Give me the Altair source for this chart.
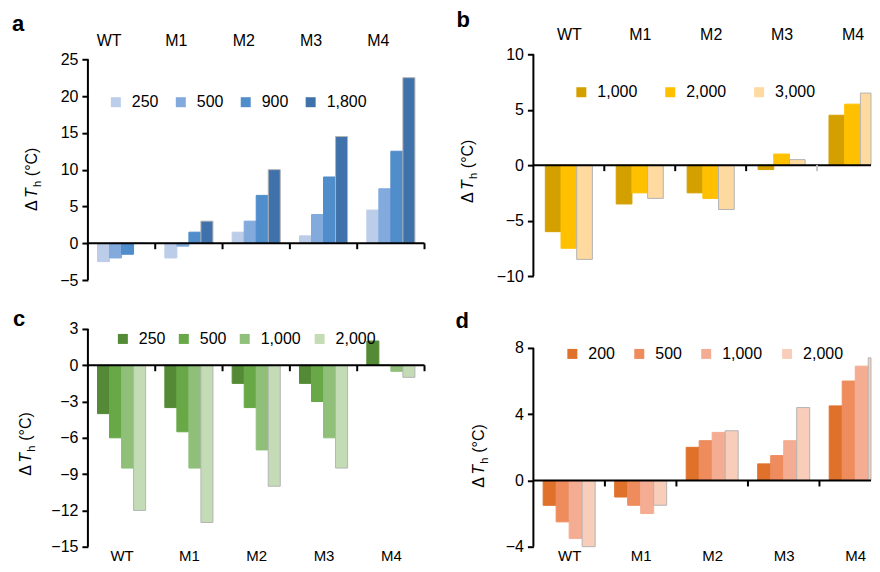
import altair as alt
import pandas as pd

FONT = "Liberation Sans"
cats = ["WT", "M1", "M2", "M3", "M4"]

# Panel a
a_series = ["250", "500", "900", "1,800"]
a_250 = [-2.5, -2.0, 1.5, 1.0, 4.5]
a_500 = [-2.0, -0.4, 3.0, 3.9, 7.4]
a_900 = [-1.5, 1.5, 6.5, 9.0, 12.5]
a_1800 = [0.0, 3.0, 10.0, 14.5, 22.5]
a_colors = ["#bccde9", "#82aadd", "#4f8dcb", "#3f72aa"]

# Panel b
b_series = ["1,000", "2,000", "3,000"]
b_1000 = [-6.0, -3.5, -2.5, -0.4, 4.5]
b_2000 = [-7.5, -2.5, -3.0, 1.0, 5.5]
b_3000 = [-8.5, -3.0, -4.0, 0.5, 6.5]
b_colors = ["#d4a000", "#ffc000", "#fed9a0"]

# Panel c
c_series = ["250", "500", "1,000", "2,000"]
c_250 = [-4.0, -3.5, -1.5, -1.5, 2.0]
c_500 = [-6.0, -5.5, -3.5, -3.0, 0.0]
c_1000 = [-8.5, -8.5, -7.0, -6.0, -0.5]
c_2000 = [-12.0, -13.0, -10.0, -8.5, -1.0]
c_colors = ["#548a35", "#68a847", "#8fbf78", "#c4dcb5"]

# Panel d
d_series = ["200", "500", "1,000", "2,000"]
d_200 = [-1.5, -1.0, 2.0, 1.0, 4.5]
d_500 = [-2.5, -1.5, 2.4, 1.5, 6.0]
d_1000 = [-3.5, -2.0, 2.9, 2.4, 6.9]
d_2000 = [-4.0, -1.5, 3.0, 4.4, 7.4]
d_colors = ["#e0712a", "#ee8c5e", "#f4ad92", "#f8cdb9"]


def make_df(series, lists):
    rows = []
    for si, (s, vals) in enumerate(zip(series, lists)):
        for ci, (c, v) in enumerate(zip(cats, vals)):
            rows.append({"cat": c, "ci": ci, "series": s, "si": si, "value": v})
    return pd.DataFrame(rows)


def one(text):
    return pd.DataFrame({"t": [text]})


def panel(df, series, colors, ydomain, yticks, W, step, H, x_orient, label_pad,
          label_size, label_offset, leg_x, leg_y, col_pad, title_x, title_y,
          letter, letter_x, letter_y, black_ticks, gray_ticks, pad_outer):
    n = len(series)
    bw = 1.0 / (n + 2 * pad_outer)
    xmax = W / step
    xscale = alt.Scale(domain=[0, xmax], nice=False, zero=False)
    xaxis = alt.Axis(orient=x_orient, title=None, domain=False, ticks=False,
                     grid=False, tickSize=0, labelAngle=0,
                     values=[i + 0.5 for i in range(len(cats))],
                     labelExpr="['WT','M1','M2','M3','M4'][floor(datum.value)]",
                     labelPadding=label_pad, labelOffset=label_offset,
                     labelFontSize=label_size, labelFont=FONT,
                     labelColor="black", labelOverlap=False, labelFlush=False)
    yscale = alt.Scale(domain=ydomain, nice=False, zero=False)
    strokes = colors[:-1] + ["#b4b4b4"]
    bars = alt.Chart(df).transform_calculate(
        x0=f"datum.ci + ({pad_outer} + datum.si) * {bw}"
    ).transform_calculate(
        x1=f"min(datum.x0 + {bw}, {xmax})"
    ).transform_filter(f"datum.x0 < {xmax}").mark_bar(strokeWidth=1).encode(
        x=alt.X("x0:Q", scale=xscale, axis=xaxis),
        x2="x1:Q",
        y=alt.Y("value:Q", scale=yscale,
                axis=alt.Axis(values=yticks, tickCount=len(yticks), title=None,
                              grid=False, domain=False,
                              tickColor="black", tickWidth=2, tickSize=6,
                              labelFontSize=16, labelFont=FONT,
                              labelPadding=4, labelColor="black", format="d",
                              labelOverlap=False)),
        y2=alt.datum(0),
        color=alt.Color("series:N", sort=series,
                        scale=alt.Scale(domain=series, range=colors),
                        legend=alt.Legend(orient="none", legendX=leg_x,
                                          legendY=leg_y, direction="horizontal",
                                          title=None, symbolType="square",
                                          symbolSize=100, symbolStrokeWidth=0,
                                          labelFontSize=16, labelFont=FONT,
                                          labelColor="black", labelOffset=8,
                                          columnPadding=col_pad, padding=0)),
        stroke=alt.Stroke("series:N", sort=series,
                          scale=alt.Scale(domain=series, range=strokes),
                          legend=None),
    )
    layers = [bars]
    # y axis line from lowest to highest tick
    layers.append(alt.Chart(one("y")).mark_rule(color="black", strokeWidth=2).encode(
        x=alt.value(0), y=alt.datum(min(yticks)), y2=alt.datum(max(yticks))))
    # zero line
    layers.append(alt.Chart(one("z")).mark_rule(color="black", strokeWidth=2).encode(
        y=alt.datum(0), x=alt.value(0), x2=alt.value(W)))
    tick_units = 6.0 * (ydomain[1] - ydomain[0]) / H
    for tlist, col in ((black_ticks, "black"), (gray_ticks, "#c8c8c8")):
        if tlist:
            tdf = pd.DataFrame({"x0": tlist})
            layers.append(alt.Chart(tdf).mark_rule(color=col, strokeWidth=2).encode(
                x=alt.X("x0:Q", scale=xscale, axis=xaxis),
                y=alt.datum(0), y2=alt.datum(-tick_units)))
    # y title pieces (rotated)
    pieces = [("\u0394", 0, 0, 16, "normal"), ("T", 13, 0, 16, "italic"),
              ("h", 24, 4, 11, "normal"), ("(\u00b0C)", 35, 0, 16, "normal")]
    for txt, dx, dy, fs, st in pieces:
        layers.append(alt.Chart(one(txt)).mark_text(
            text=txt, angle=270, align="left", baseline="alphabetic",
            dx=dx, dy=dy, font=FONT, fontSize=fs, fontStyle=st,
            color="black").encode(x=alt.value(title_x), y=alt.value(title_y)))
    layers.append(alt.Chart(one(letter)).mark_text(
        text=letter, align="left", baseline="top", font=FONT,
        fontSize=22, fontWeight="bold", color="black").encode(
        x=alt.value(letter_x), y=alt.value(letter_y)))
    return alt.layer(*layers).properties(width=W, height=H)


# a: 221 px for 30 units, plot extended 5 px above the 25 tick
a_top = -5 + 226 / (221 / 30)
A = panel(make_df(a_series, [a_250, a_500, a_900, a_1800]), a_series, a_colors,
          [-5, a_top], [-5, 0, 5, 10, 15, 20, 25], 337, 67.4, 226, "top", 6, 16,
          -13, 20, 40, 14, -51, 157, "a", -76, -40, [1, 2, 3, 4, 5], [], 0.8)
# b: 222 px for 20 units, plot extended 4 px below the -10 tick
b_bot = 10 - 226 / (222 / 20)
B = panel(make_df(b_series, [b_1000, b_2000, b_3000]), b_series, b_colors,
          [b_bot, 10], [-10, -5, 0, 5, 10], 338, 71.0, 226, "top", 12, 16, 0,
          40, 30, 24, -60, 149, "b", -77, -44, [1, 2, 3], [4], 0.76)
C = panel(make_df(c_series, [c_250, c_500, c_1000, c_2000]), c_series, c_colors,
          [-15, 3], [-15, -12, -9, -6, -3, 0, 3], 337, 67.4, 218, "bottom", 2, 15,
          0, 27, 2, 10, -57, 147, "c", -75, -20, [1, 2, 3, 4, 5], [], 0.8)
# d: 199 px for 12 units, plot extended upward to share the row top
d_top = -4 + 218 / (199 / 12)
D = panel(make_df(d_series, [d_200, d_500, d_1000, d_2000]), d_series, d_colors,
          [-4, d_top], [-4, 0, 4, 8], 338, 71.6, 218, "bottom", 2, 15, 0,
          31, 17, 16, -49, 159, "d", -78, -18, [1, 2, 3, 4], [], 0.75)

res = dict(color="independent", stroke="independent", x="independent",
           y="independent")
chart = alt.concat(A, B, C, D, columns=2, spacing={"row": 49, "column": 108},
                   bounds="flush", align="all").resolve_scale(**res).properties(
    padding={"left": 4, "top": 1, "right": 0, "bottom": 0}
).configure_view(stroke=None)

chart.save("out.html", embed_options={"renderer": "svg", "actions": False})
